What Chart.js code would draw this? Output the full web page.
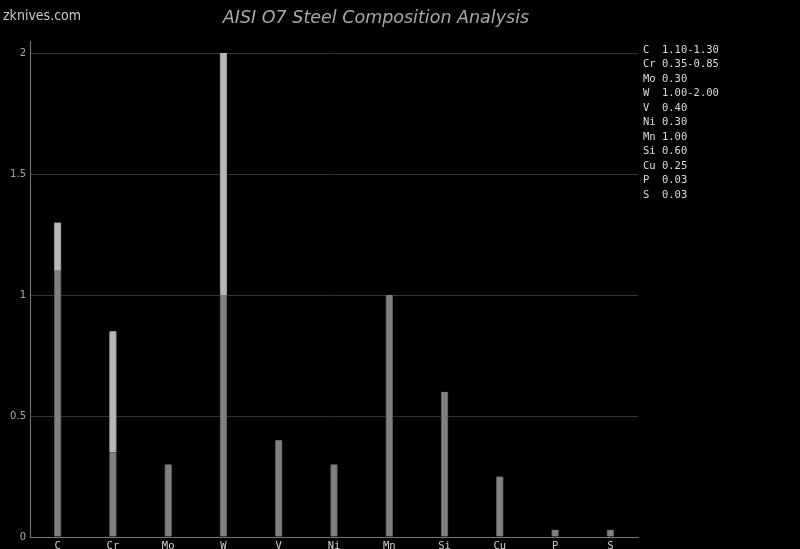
<!DOCTYPE html>
<html>
<head>
<meta charset="utf-8">
<script src="https://cdn.jsdelivr.net/npm/chart.js@4"></script>
<style>
  html, body { margin: 0; padding: 0; background: #000; }
  #wrap { width: 800px; height: 549px; }
</style>
</head>
<body>
<div id="wrap"><canvas id="steelChart"></canvas></div>
<script>
// composition data (wt %)
var elements = ["C", "Cr", "Mo", "W", "V", "Ni", "Mn", "Si", "Cu", "P", "S"];
var minValues = [1.10, 0.35, 0.30, 1.00, 0.40, 0.30, 1.00, 0.60, 0.25, 0.03, 0.03];
var maxValues = [1.30, 0.85, 0.30, 2.00, 0.40, 0.30, 1.00, 0.60, 0.25, 0.03, 0.03];
var rangeLabels = ["1.10-1.30", "0.35-0.85", "0.30", "1.00-2.00", "0.40", "0.30", "1.00", "0.60", "0.25", "0.03", "0.03"];
var yTicks = [0, 0.5, 1, 1.5, 2];

var extraValues = maxValues.map(function (v, i) { return +(v - minValues[i]).toFixed(2); });

// title, watermark and the text list on the right
var textPlugin = {
  id: "textPlugin",
  afterDraw: function (chart) {
    var ctx = chart.ctx;
    var area = chart.chartArea;
    ctx.save();
    ctx.fillStyle = "#c8c8c8";
    ctx.font = "14px 'DejaVu Sans Condensed', 'DejaVu Sans', sans-serif";
    ctx.textBaseline = "middle";
    ctx.textAlign = "left";
    ctx.fillText("zknives.com", 3, 16);

    ctx.fillStyle = "#a8a8a8";
    ctx.font = "italic 17.5px 'DejaVu Sans', sans-serif";
    ctx.textAlign = "center";
    ctx.fillText("AISI O7 Steel Composition Analysis", 376, 18);

    ctx.fillStyle = "#dcdcdc";
    ctx.font = "10.5px 'DejaVu Sans Mono', monospace";
    ctx.textAlign = "left";
    for (var i = 0; i < elements.length; i++) {
      var name = (elements[i] + "  ").slice(0, 2);
      ctx.fillText(name + " " + rangeLabels[i], area.right + 5, 50 + i * 14.5);
    }
    ctx.restore();
  }
};

new Chart("steelChart", {
  type: "bar",
  data: {
    labels: elements,
    datasets: [{
      label: "min",
      data: minValues,
      backgroundColor: "#808080",
      borderColor: "#555555",
      borderWidth: {left: 1, right: 1, top: 0, bottom: 0},
      borderSkipped: false,
      barThickness: 7
    }, {
      label: "max",
      data: extraValues,
      backgroundColor: "#b8b8b8",
      borderColor: "#8a8a8a",
      borderWidth: {left: 1, right: 1, top: 0, bottom: 0},
      borderSkipped: false,
      barThickness: 7
    }]
  },
  options: {
    responsive: true,
    maintainAspectRatio: false,
    animation: false,
    layout: {padding: {left: 0, top: 41, right: 162, bottom: 0}},
    plugins: {
      legend: {display: false},
      title: {display: false},
      tooltip: {enabled: false}
    },
    scales: {
      x: {
        stacked: true,
        grid: {display: false, drawTicks: false},
        border: {color: "#777777", width: 1},
        ticks: {
          color: "#d0d0d0",
          padding: 3,
          font: {family: "'DejaVu Sans Mono', monospace", size: 10.5}
        },
        afterFit: function (s) { s.height = 12; }
      },
      y: {
        stacked: true,
        min: 0,
        max: 2.05,
        afterBuildTicks: function (s) { s.ticks = yTicks.map(function (v) { return {value: v}; }); },
        grid: {color: "#333333", drawTicks: false},
        border: {color: "#777777", width: 1},
        ticks: {
          color: "#a8a8a8",
          padding: 4,
          font: {family: "'DejaVu Sans', sans-serif", size: 10},
          callback: function (v) { return String(v); }
        },
        afterFit: function (s) { s.width = 30; }
      }
    }
  },
  plugins: [textPlugin]
});
</script>
</body>
</html>
